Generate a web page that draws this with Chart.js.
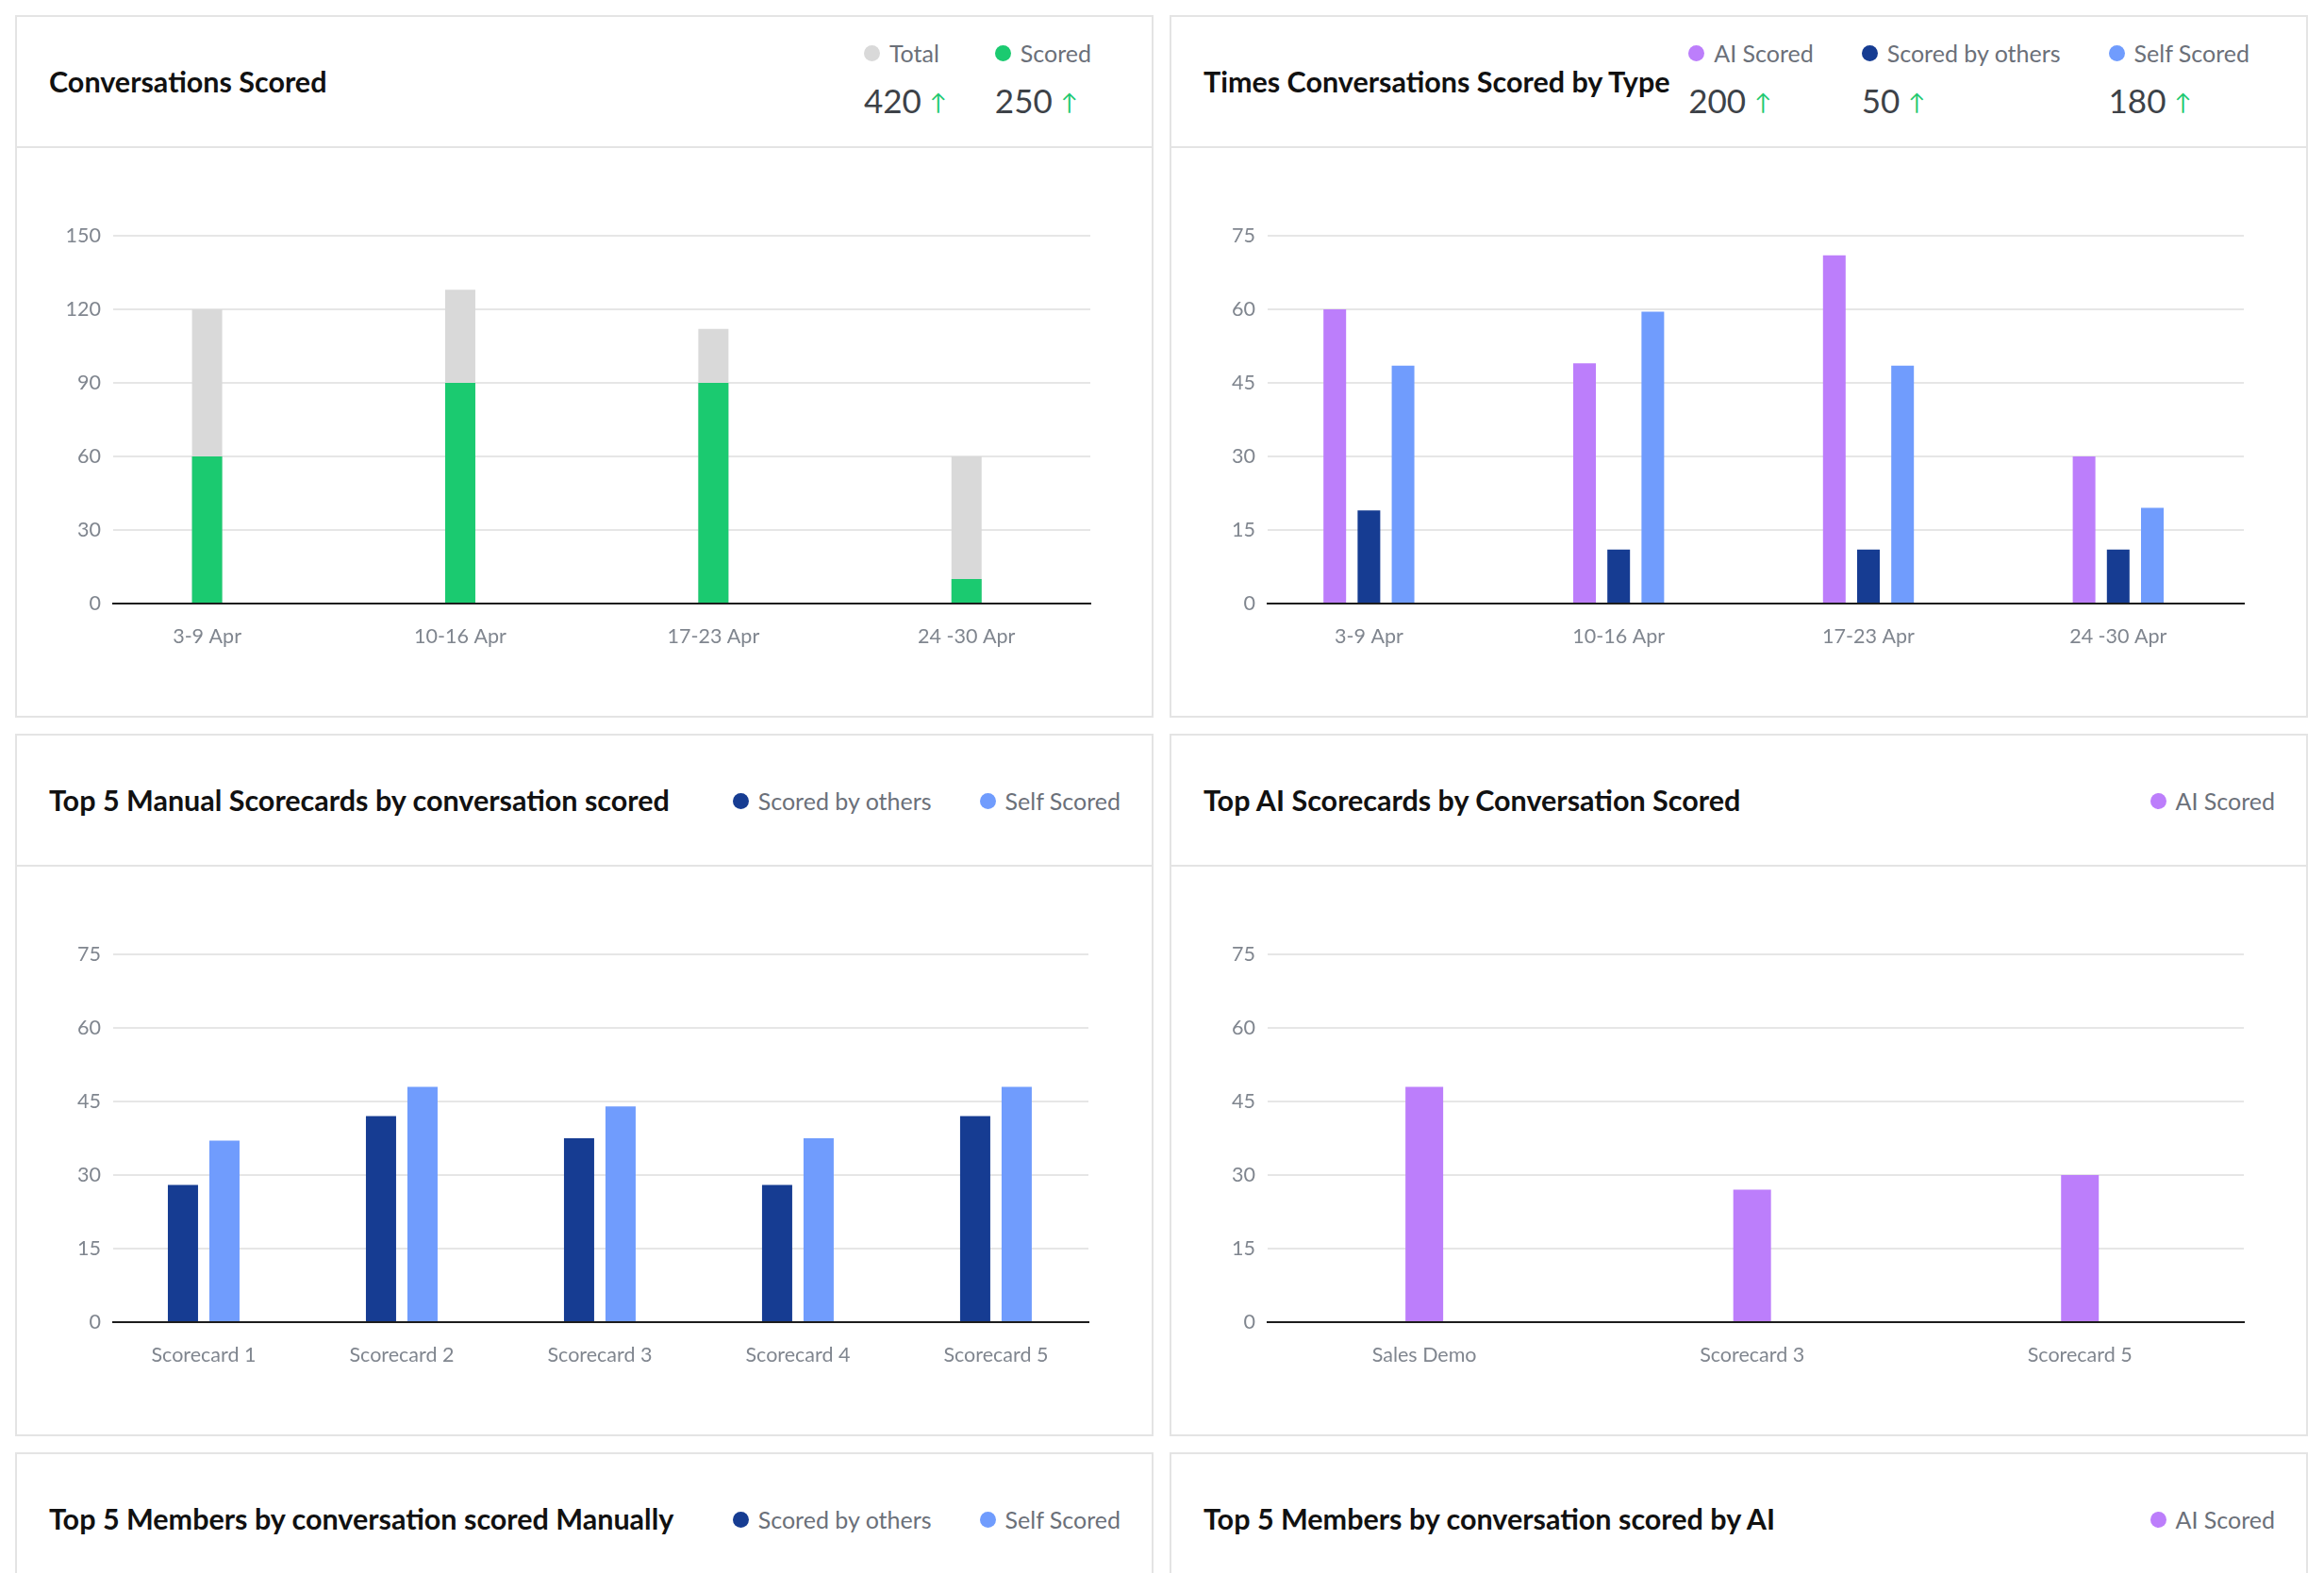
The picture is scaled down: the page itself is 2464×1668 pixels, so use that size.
<!DOCTYPE html>
<html>
<head>
<meta charset="utf-8">
<title>Scoring dashboard</title>
<script src="https://cdn.jsdelivr.net/npm/chart.js@4.4.1/dist/chart.umd.min.js"></script>
<style>
  html, body { margin: 0; padding: 0; background: #fff; }
  body { width: 2464px; height: 1668px; overflow: hidden; position: relative; font-family: Lato, "Open Sans", sans-serif; }
  .panel { position: absolute; width: 1203px; height: 741px; border: 2px solid #e4e4e4; background: #fff; }
  .head { position: absolute; left: 0; top: 0; width: 1203px; height: 137px; border-bottom: 2px solid #e4e4e4; }
  .title { position: absolute; left: 34px; top: 50px; line-height: 36px; font-size: 30.5px; font-weight: 700; color: #111; white-space: nowrap; }
  .title.one { top: 50px; }
  .stats { position: absolute; right: 64px; top: 23px; display: flex; gap: 51px; }
  .legend { position: absolute; right: 33px; top: 54px; display: flex; gap: 51px; }
  .lg { display: flex; align-items: center; font-size: 25px; line-height: 30px; color: #6b7079; white-space: nowrap; }
  .lg i { width: 17px; height: 17px; border-radius: 50%; margin-right: 10px; display: inline-block; }
  .val { margin-top: 15px; font-size: 35px; line-height: 40px; color: #3d4248; white-space: nowrap; }
  .up { color: #1fc971; font-size: 24px; margin-left: 9px; position: relative; top: -3px; }
  .body { position: absolute; left: 0; top: 139px; width: 1203px; height: 602px; }
</style>
</head>
<body>

<div class="panel" style="left:16px;top:16px">
  <div class="head">
    <div class="title">Conversations Scored</div>
    <div class="stats">
      <div><div class="lg"><i style="background:#d9d9d9"></i>Total</div><div class="val">420<span class="up">↑</span></div></div>
      <div><div class="lg"><i style="background:#1bca70"></i>Scored</div><div class="val">250<span class="up">↑</span></div></div>
    </div>
  </div>
  <div class="body"><canvas id="scoredChart"></canvas></div>
</div>

<div class="panel" style="left:1240px;top:16px">
  <div class="head">
    <div class="title">Times Conversations Scored by Type</div>
    <div class="stats" style="right:60px">
      <div><div class="lg"><i style="background:#bc7efb"></i>AI Scored</div><div class="val">200<span class="up">↑</span></div></div>
      <div><div class="lg"><i style="background:#163c92"></i>Scored by others</div><div class="val">50<span class="up">↑</span></div></div>
      <div><div class="lg"><i style="background:#709cfd"></i>Self Scored</div><div class="val">180<span class="up">↑</span></div></div>
    </div>
  </div>
  <div class="body"><canvas id="typeChart"></canvas></div>
</div>

<div class="panel" style="left:16px;top:778px">
  <div class="head">
    <div class="title one">Top 5 Manual Scorecards by conversation scored</div>
    <div class="legend">
      <div class="lg"><i style="background:#163c92"></i>Scored by others</div>
      <div class="lg"><i style="background:#709cfd"></i>Self Scored</div>
    </div>
  </div>
  <div class="body"><canvas id="manualChart"></canvas></div>
</div>

<div class="panel" style="left:1240px;top:778px">
  <div class="head">
    <div class="title one">Top AI Scorecards by Conversation Scored</div>
    <div class="legend">
      <div class="lg"><i style="background:#bc7efb"></i>AI Scored</div>
    </div>
  </div>
  <div class="body"><canvas id="aiChart"></canvas></div>
</div>

<div class="panel" style="left:16px;top:1540px">
  <div class="head">
    <div class="title one">Top 5 Members by conversation scored Manually</div>
    <div class="legend">
      <div class="lg"><i style="background:#163c92"></i>Scored by others</div>
      <div class="lg"><i style="background:#709cfd"></i>Self Scored</div>
    </div>
  </div>
</div>

<div class="panel" style="left:1240px;top:1540px">
  <div class="head">
    <div class="title one">Top 5 Members by conversation scored by AI</div>
    <div class="legend">
      <div class="lg"><i style="background:#bc7efb"></i>AI Scored</div>
    </div>
  </div>
</div>

<script>
// data
const weeks = ['3-9 Apr', '10-16 Apr', '17-23 Apr', '24 -30 Apr'];
const totalConversations = [120, 128, 112, 60];
const scoredConversations = [60, 90, 90, 10];
const countTicks = [0, 30, 60, 90, 120, 150];

const aiScoredByWeek = [60, 49, 71, 30];
const othersScoredByWeek = [19, 11, 11, 11];
const selfScoredByWeek = [48.5, 59.5, 48.5, 19.5];

const manualScorecards = ['Scorecard 1', 'Scorecard 2', 'Scorecard 3', 'Scorecard 4', 'Scorecard 5'];
const manualByOthers = [28, 42, 37.5, 28, 42];
const manualSelf = [37, 48, 44, 37.5, 48];

const aiScorecards = ['Sales Demo', 'Scorecard 3', 'Scorecard 5'];
const aiScorecardValues = [48, 27, 30];

const smallTicks = [0, 15, 30, 45, 60, 75];

const GREEN = '#1bca70', GREY = '#d9d9d9', PURPLE = '#bc7efb', NAVY = '#163c92', BLUE = '#709cfd';
const tickColor = '#80868f';
const tickFont = { family: 'Lato', size: 21.5 };

Chart.defaults.font.family = 'Lato';

// bars sit on a linear x axis so the category spacing can follow the picture
const pts = (vals) => vals.map((v, i) => ({ x: i, y: v }));

function makeChart(id, labels, yTicks, padL, padR, rightPad, datasets) {
  new Chart(document.getElementById(id), {
    type: 'bar',
    data: { datasets: datasets },
    options: {
      responsive: true,
      maintainAspectRatio: false,
      animation: false,
      layout: { padding: { top: 93, right: rightPad, bottom: 0, left: 0 } },
      plugins: { legend: { display: false }, tooltip: { enabled: false } },
      scales: {
        x: {
          type: 'linear',
          offset: false,
          min: -padL,
          max: labels.length - 1 + padR,
          grid: { display: false, drawTicks: false },
          border: { display: true, color: '#1d1d1d', width: 2 },
          afterBuildTicks: (axis) => { axis.ticks = labels.map((l, i) => ({ value: i })); },
          afterFit: (axis) => { axis.height = 119; },
          ticks: {
            autoSkip: false, maxRotation: 0, padding: 22,
            color: tickColor, font: tickFont,
            callback: (v) => labels[v]
          }
        },
        y: {
          min: yTicks[0],
          max: yTicks[yTicks.length - 1],
          grid: { color: '#e6e6e6', lineWidth: 2, drawTicks: false },
          border: { display: false },
          afterBuildTicks: (axis) => { axis.ticks = yTicks.map(v => ({ value: v })); },
          afterFit: (axis) => { axis.width = 102; },
          ticks: { padding: 13, color: tickColor, font: tickFont }
        }
      }
    }
  });
}

// Scored in front of Total, both on the same spot
makeChart('scoredChart', weeks, countTicks, 0.371, 0.489, 65, [
  { label: 'Scored', data: pts(scoredConversations), backgroundColor: GREEN, grouped: false, maxBarThickness: 32 },
  { label: 'Total', data: pts(totalConversations), backgroundColor: GREY, grouped: false, maxBarThickness: 32 }
]);

makeChart('typeChart', weeks, smallTicks, 0.4055, 0.503, 66, [
  { label: 'AI Scored', data: pts(aiScoredByWeek), backgroundColor: PURPLE, categoryPercentage: 0.41, barPercentage: 1, maxBarThickness: 24 },
  { label: 'Scored by others', data: pts(othersScoredByWeek), backgroundColor: NAVY, categoryPercentage: 0.41, barPercentage: 1, maxBarThickness: 24 },
  { label: 'Self Scored', data: pts(selfScoredByWeek), backgroundColor: BLUE, categoryPercentage: 0.41, barPercentage: 1, maxBarThickness: 24 }
]);

makeChart('manualChart', manualScorecards, smallTicks, 0.457, 0.467, 67, [
  { label: 'Scored by others', data: pts(manualByOthers), backgroundColor: NAVY, categoryPercentage: 0.419, barPercentage: 1, maxBarThickness: 32 },
  { label: 'Self Scored', data: pts(manualSelf), backgroundColor: BLUE, categoryPercentage: 0.419, barPercentage: 1, maxBarThickness: 32 }
]);

makeChart('aiChart', aiScorecards, smallTicks, 0.478, 0.5, 66, [
  { label: 'AI Scored', data: pts(aiScorecardValues), backgroundColor: PURPLE, maxBarThickness: 40 }
]);
</script>
</body>
</html>
